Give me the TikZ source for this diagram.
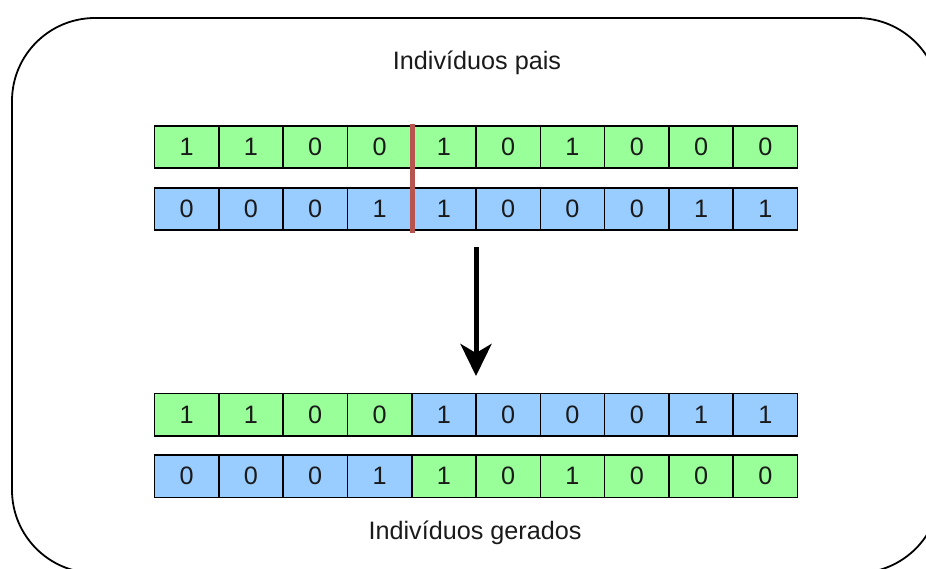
\documentclass[tikz,border=0pt]{standalone}
\usepackage{fontspec}
\setmainfont{Liberation Sans}
\usetikzlibrary{arrows.meta}
\definecolor{gfill}{HTML}{99FF99}
\definecolor{bfill}{HTML}{99CCFF}
\definecolor{cutred}{HTML}{B85450}
\definecolor{txt}{HTML}{1A1A1A}
\tikzset{
  cell/.style={draw=black, line width=1.6pt, minimum width=64.3pt, minimum height=42.5pt,
    inner sep=0pt, text=txt, font=\fontsize{25.2}{28}\selectfont},
  gcell/.style={cell, fill=gfill},
  bcell/.style={cell, fill=bfill},
  lbl/.style={anchor=base, inner sep=0pt, text=txt, font=\fontsize{25.2}{28}\selectfont},
}
\begin{document}
\begin{tikzpicture}[x=1pt,y=-1pt]
\useasboundingbox (0,0) rectangle (926,568);
% outer rounded frame
\draw[line width=1.8pt, rounded corners=83pt] (12,18) rectangle (940,573);
% titles
\node[lbl] (top) at (477,69) {Indivíduos pais};
\node[lbl] (bot) at (475,539) {Indivíduos gerados};
% row 1 (parent A)
\foreach \v [count=\i] in {1,1,0,0,1,0,1,0,0,0}
  \node[gcell] (a\i) at ({154.5+64.3*(\i-0.5)},147) {\v};
% row 2 (parent B)
\foreach \v [count=\i] in {0,0,0,1,1,0,0,0,1,1}
  \node[bcell] (b\i) at ({154.5+64.3*(\i-0.5)},209) {\v};
% row 3 (child 1)
\foreach \v [count=\i] in {1,1,0,0}
  \node[gcell] (c\i) at ({154.5+64.3*(\i-0.5)},414.7) {\v};
\foreach \v [count=\j from 5] in {1,0,0,0,1,1}
  \node[bcell] (c\j) at ({154.5+64.3*(\j-0.5)},414.7) {\v};
% row 4 (child 2)
\foreach \v [count=\i] in {0,0,0,1}
  \node[bcell] (d\i) at ({154.5+64.3*(\i-0.5)},476.2) {\v};
\foreach \v [count=\j from 5] in {1,0,1,0,0,0}
  \node[gcell] (d\j) at ({154.5+64.3*(\j-0.5)},476.2) {\v};
% cut line
\coordinate (cuttop) at ([yshift=1pt]a4.north east);
\coordinate (cutbot) at ([yshift=-2pt]b4.south east);
\draw[cutred, line width=5pt] (cuttop) -- (cutbot);
% arrow
\coordinate (arrs) at (476,247);
\coordinate (arre) at (476,376);
\draw[line width=5pt, -{Stealth[length=32pt, width=31pt, inset=9pt]}] (arrs) -- (arre);
\end{tikzpicture}
\end{document}
